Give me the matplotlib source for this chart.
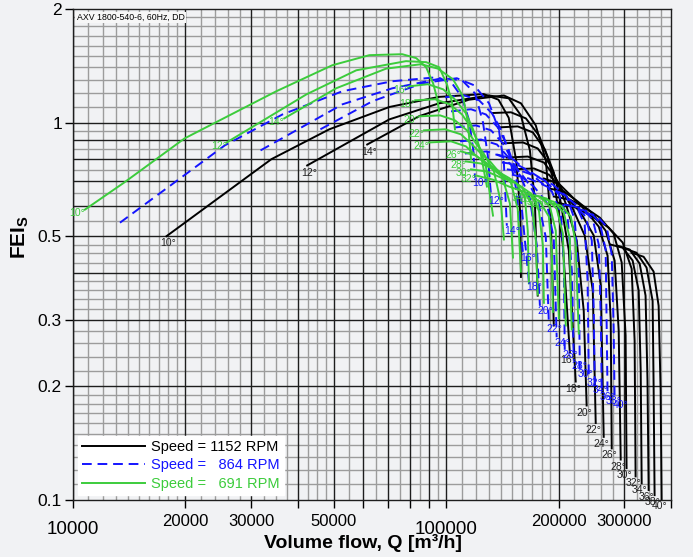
import numpy as np
import matplotlib
matplotlib.use('Agg')
import matplotlib.pyplot as plt
from matplotlib.transforms import ScaledTranslation

plt.rcParams['font.family'] = ['Liberation Sans', 'DejaVu Sans']
plt.rcParams['mathtext.fontset'] = 'custom'
plt.rcParams['mathtext.bf'] = 'Liberation Sans:bold'
plt.rcParams['mathtext.rm'] = 'Liberation Sans'

# blade angles, one curve per angle and speed
angles = [10, 12, 14, 16, 18, 20, 22, 24, 26, 28, 30, 32, 34, 36, 38, 40]

# volume flow in 1000 m3/h, FEI
q_1152 = [
    [17.8, 34.0, 48.6, 70.4, 95.7, 126, 138, 147, 154, 158, 158.5],
    [42.4, 70.4, 95.7, 130, 147, 158.5, 167.5, 172.7, 175.8],
    [61.4, 84.6, 115, 142.7, 158.5, 173.7, 184.8, 190.6, 194.1],
    [132.6, 149, 163.4, 177.1, 188.3, 196.5, 205.3, 214.3],
    [137.5, 155.4, 170.6, 183.7, 194.1, 201.5, 213, 222.2],
    [141, 160.5, 175.8, 189.5, 200.3, 209, 223.6, 233.5, 237.7],
    [145.3, 165.3, 182.6, 195.3, 206.5, 218.3, 234.9, 246.9, 251.4],
    [149.9, 171.7, 188.3, 201.5, 213, 229.3, 248.4, 259.4, 264.1],
    [182.6, 200.3, 215.6, 234.9, 256.2, 270.5, 275.8, 277.5],
    [188.3, 206.5, 223.6, 246.9, 267.3, 282.5, 289.7, 293.3],
    [194.1, 214.3, 233.5, 257.8, 280.8, 295.1, 302.3, 304.1],
    [200.3, 222.2, 245.4, 272.4, 296.9, 313.8, 319.6, 321.5],
    [275.8, 296.9, 315.7, 327.7, 331.8, 333.8],
    [287.6, 310, 329.7, 341.9, 346, 348.5],
    [300.5, 323.4, 344, 357.1, 359.3, 361.5],
    [313.8, 337.9, 359.3, 370.6, 375.2, 377.5],
]
fei_1152 = [
    [0.50, 0.80, 0.96, 1.10, 1.17, 1.19, 1.15, 1.03, 0.79, 0.57, 0.39],
    [0.77, 1.02, 1.125, 1.18, 1.16, 1.045, 0.844, 0.621, 0.348],
    [0.875, 1.04, 1.15, 1.18, 1.125, 0.983, 0.794, 0.55, 0.29],
    [1.06, 1.065, 1.026, 0.925, 0.794, 0.653, 0.472, 0.246],
    [0.971, 0.977, 0.942, 0.849, 0.738, 0.633, 0.458, 0.206],
    [0.881, 0.886, 0.854, 0.775, 0.681, 0.61, 0.487, 0.317, 0.178],
    [0.808, 0.813, 0.784, 0.72, 0.649, 0.591, 0.502, 0.359, 0.16],
    [0.752, 0.756, 0.728, 0.677, 0.625, 0.577, 0.502, 0.37, 0.147],
    [0.711, 0.689, 0.641, 0.588, 0.53, 0.444, 0.299, 0.137],
    [0.669, 0.657, 0.621, 0.574, 0.517, 0.431, 0.281, 0.128],
    [0.637, 0.625, 0.599, 0.56, 0.508, 0.426, 0.273, 0.1215],
    [0.613, 0.596, 0.564, 0.527, 0.481, 0.41, 0.264, 0.1155],
    [0.475, 0.466, 0.431, 0.359, 0.22, 0.1107],
    [0.472, 0.461, 0.423, 0.348, 0.207, 0.1063],
    [0.464, 0.452, 0.413, 0.337, 0.201, 0.103],
    [0.452, 0.441, 0.403, 0.327, 0.195, 0.1006],
]

q_864 = [
    [13.36, 25.5, 36.4, 52.7, 71.7, 94.5, 103.6, 110.2, 115.1, 118, 119.4],
    [31.8, 52.7, 71.7, 97.5, 110.2, 119.4, 125.4, 129.2, 131.8],
    [46, 63.4, 86.2, 106.7, 118.7, 130.2, 138.4, 142.7, 145.3],
    [99.3, 111.6, 122.4, 132.6, 141, 147.2, 153.6, 160.5],
    [103, 116.5, 127.7, 137.5, 145.3, 150.9, 158.5, 166.5],
    [105.5, 120.1, 131.8, 141.8, 149.9, 156.6, 167.5, 174.8, 178.2],
    [108.9, 123.9, 136.7, 146.1, 154.5, 163.4, 175.8, 184.8, 188.3],
    [112.2, 128.5, 141, 150.9, 158.5, 171.7, 185.9, 194.1, 197.6],
    [136.7, 149.9, 161.5, 175.8, 191.8, 202.8, 206.5, 207.7],
    [141, 154.5, 167.5, 184.8, 200.3, 211.5, 217, 219.6],
    [145.3, 160.5, 174.8, 193, 210.2, 220.9, 226.5, 227.9],
    [149.9, 166.5, 183.7, 204, 222.2, 234.9, 239.1, 240.9],
    [206.5, 222.2, 236.3, 245.4, 248.4, 249.9],
    [215.6, 232.1, 246.9, 256.2, 259.4, 261],
    [224.9, 242.4, 257.8, 267.3, 268.9, 270.5],
    [234.9, 252.8, 268.9, 277.5, 280.8, 282.5],
]
fei_864 = [
    [0.543, 0.87, 1.051, 1.211, 1.287, 1.319, 1.271, 1.167, 1.014, 0.854, 0.715],
    [0.844, 1.118, 1.233, 1.311, 1.295, 1.195, 1.002, 0.818, 0.641],
    [0.96, 1.139, 1.271, 1.311, 1.256, 1.125, 0.954, 0.779, 0.533],
    [1.167, 1.181, 1.146, 1.058, 0.948, 0.828, 0.673, 0.452],
    [1.071, 1.085, 1.051, 0.971, 0.875, 0.784, 0.625, 0.379],
    [0.971, 0.983, 0.954, 0.881, 0.799, 0.738, 0.629, 0.472, 0.327],
    [0.892, 0.902, 0.875, 0.813, 0.756, 0.706, 0.629, 0.496, 0.294],
    [0.828, 0.839, 0.813, 0.765, 0.72, 0.677, 0.613, 0.493, 0.27],
    [0.823, 0.804, 0.756, 0.706, 0.657, 0.574, 0.423, 0.25],
    [0.784, 0.775, 0.742, 0.698, 0.645, 0.557, 0.405, 0.234],
    [0.752, 0.742, 0.72, 0.685, 0.637, 0.553, 0.393, 0.223],
    [0.728, 0.711, 0.681, 0.649, 0.607, 0.536, 0.381, 0.211],
    [0.607, 0.599, 0.564, 0.487, 0.317, 0.202],
    [0.603, 0.591, 0.553, 0.475, 0.303, 0.194],
    [0.591, 0.58, 0.543, 0.461, 0.295, 0.189],
    [0.577, 0.567, 0.53, 0.447, 0.286, 0.185],
]

q_691 = [
    [10.76, 13.69, 19.9, 35.06, 49.5, 62.2, 76.2, 83.1, 88.3, 92.2, 94.5, 95.7],
    [25.8, 42.2, 57.4, 78, 88.3, 95.7, 100.4, 103.6, 105.5],
    [36.8, 50.7, 69, 85.6, 95, 104.2, 110.9, 114.2, 116.5],
    [79.6, 89.3, 98.1, 106.1, 112.9, 118, 123.2, 128.5],
    [82.6, 93.3, 102.3, 110.2, 116.5, 120.8, 127.7, 133.4],
    [84.6, 96.3, 105.5, 113.6, 120.1, 125.4, 134.2, 140.1, 142.7],
    [87.2, 99.3, 109.5, 117.2, 123.9, 131, 141, 148.1, 150.9],
    [90, 103, 112.9, 120.8, 127.7, 137.5, 149, 155.4, 158.5],
    [109.5, 120.1, 129.4, 141, 153.6, 162.4, 165.3, 166.5],
    [112.9, 123.9, 134.2, 148.1, 160.5, 169.6, 173.7, 175.8],
    [116.5, 128.5, 140.1, 154.5, 168.6, 177.1, 181.5, 182.6],
    [120.1, 133.4, 147.2, 163.4, 178.2, 188.3, 191.8, 193],
    [165.3, 178.2, 189.5, 196.5, 198.8, 200.3],
    [172.7, 185.9, 197.6, 205.3, 207.7, 209],
    [180.4, 194.1, 206.5, 214.3, 215.6, 216.9],
    [188.3, 202.8, 215.6, 222.2, 224.9, 226.5],
]
fei_691 = [
    [0.588, 0.693, 0.908, 1.211, 1.419, 1.509, 1.518, 1.482, 1.402, 1.271, 1.16, 1.071],
    [0.886, 1.188, 1.376, 1.455, 1.446, 1.402, 1.264, 1.132, 0.96],
    [1.026, 1.233, 1.39, 1.428, 1.39, 1.303, 1.174, 1.002, 0.799],
    [1.248, 1.264, 1.225, 1.146, 1.058, 0.96, 0.844, 0.677],
    [1.146, 1.153, 1.118, 1.051, 0.971, 0.902, 0.765, 0.567],
    [1.039, 1.045, 1.014, 0.954, 0.881, 0.834, 0.742, 0.613, 0.49],
    [0.954, 0.96, 0.931, 0.875, 0.828, 0.789, 0.724, 0.61, 0.439],
    [0.886, 0.892, 0.865, 0.813, 0.784, 0.747, 0.693, 0.591, 0.403],
    [0.839, 0.818, 0.77, 0.72, 0.693, 0.633, 0.517, 0.375],
    [0.789, 0.779, 0.752, 0.711, 0.669, 0.603, 0.49, 0.35],
    [0.752, 0.742, 0.715, 0.689, 0.649, 0.584, 0.472, 0.333],
    [0.724, 0.706, 0.677, 0.653, 0.617, 0.564, 0.449, 0.315],
    [0.645, 0.637, 0.599, 0.517, 0.37, 0.303],
    [0.641, 0.629, 0.591, 0.508, 0.352, 0.29],
    [0.629, 0.617, 0.577, 0.493, 0.341, 0.283],
    [0.613, 0.603, 0.564, 0.478, 0.331, 0.276],
]

speed_labels = ['Speed = 1152 RPM', 'Speed =   864 RPM', 'Speed =   691 RPM']

x_ticks = [10000, 20000, 30000, 50000, 100000, 200000, 300000]
y_ticks = [0.1, 0.2, 0.3, 0.5, 1, 2]

BG = '#f1f2f4'
BLUE = '#1414ff'
GREEN = '#3ccc3c'

fig = plt.figure(figsize=(6.93, 5.57), dpi=100, facecolor=BG)
ax = fig.add_axes([73 / 693, 1 - 500 / 557, 598 / 693, 491 / 557])
ax.set_facecolor(BG)
ax.set_xscale('log')
ax.set_yscale('log')
ax.set_xlim(10000, 400000)
ax.set_ylim(0.1, 2)

# grid: dark lines and light lines
x_dark = list(np.arange(1, 11) * 1e4) + [2e5, 3e5]
x_light = (list(np.arange(11, 20) * 1e3) + list(np.arange(22, 30, 2) * 1e3)
           + list(np.arange(32.5, 40, 2.5) * 1e3) + list(np.arange(42.5, 50, 2.5) * 1e3)
           + [55e3, 65e3, 75e3, 85e3, 95e3] + list(np.arange(11, 20) * 1e4)
           + list(np.arange(22, 30, 2) * 1e4) + list(np.arange(32.5, 40, 2.5) * 1e4))
y_dark = [0.2, 0.3, 0.4, 0.5, 0.6, 0.7, 0.8, 0.9, 1.0]
y_light = (list(np.arange(0.11, 0.195, 0.01)) + [0.22, 0.24, 0.26, 0.28]
           + [0.32, 0.34, 0.36, 0.38] + [0.425, 0.45, 0.475]
           + [0.55, 0.65, 0.75, 0.85, 0.95] + list(np.arange(1.1, 1.95, 0.1)))
for v in x_light:
    ax.axvline(v, color='#9c9c9c', lw=1.0, zorder=0.5)
for v in y_light:
    ax.axhline(v, color='#9c9c9c', lw=1.0, zorder=0.5)
for v in x_dark:
    ax.axvline(v, color='#1e1e1e', lw=1.0, zorder=0.6)
for v in y_dark:
    ax.axhline(v, color='#1e1e1e', lw=1.0, zorder=0.6)

for s in ax.spines.values():
    s.set_color('#1e1e1e')
    s.set_linewidth(1.0)

# curves
for a, q, f in zip(angles, q_1152, fei_1152):
    q = np.array(q) * 1000
    ax.plot(q, f, color='black', lw=1.4, zorder=2)
    if a <= 14:
        ax.annotate(f'{a}°', (q[0], f[0]), xytext=(1.5, -1.5), textcoords='offset points',
                    ha='center', va='top', fontsize=7.5, color='#222222', zorder=5)
    else:
        ax.annotate(f'{a}°', (q[-1], f[-1]), xytext=(-1.5, -1.5), textcoords='offset points',
                    ha='center', va='top', fontsize=7.5, color='#222222', zorder=5)

for a, q, f in zip(angles, q_864, fei_864):
    q = np.array(q) * 1000
    ax.plot(q, f, color=BLUE, lw=1.4, ls=(0, (5, 3)), zorder=3)
    ax.annotate(f'{a}°', (q[-1], f[-1]), xytext=(4, -4), textcoords='offset points',
                ha='center', va='center', fontsize=7.5, color=BLUE, zorder=5)

for a, q, f in zip(angles, q_691, fei_691):
    q = np.array(q) * 1000
    ax.plot(q, f, color=GREEN, lw=1.4, zorder=4)
    ax.annotate(f'{a}°', (q[0], f[0]), xytext=(0, -2.5), textcoords='offset points',
                ha='right', va='center', fontsize=7.5, color=GREEN, zorder=3.5)

ax.text(0.006, 0.992, 'AXV 1800-540-6, 60Hz, DD', transform=ax.transAxes, fontsize=6.3,
        ha='left', va='top', zorder=6,
        bbox=dict(facecolor='#f7f7f7', edgecolor='none', pad=1.0))

# ticks
ax.xaxis.set_major_locator(plt.FixedLocator(x_dark + [4e5]))
ax.xaxis.set_major_formatter(plt.FixedFormatter([]))
ax.xaxis.set_minor_locator(plt.NullLocator())
ax.set_xticks(x_dark + [4e5])
ax.set_xticklabels(['10000', '20000', '30000', '', '50000', '', '', '', '', '100000',
                    '200000', '300000', ''])
ax.set_yticks(y_ticks)
ax.set_yticklabels(['0.1', '0.2', '0.3', '0.5', '1', '2'])
ax.yaxis.set_minor_locator(plt.NullLocator())
ax.tick_params(axis='x', length=6, width=1, pad=4, labelsize=12)
ax.tick_params(axis='y', length=6, width=1, pad=2, labelsize=12.5)
for lbl in ax.get_xticklabels():
    if lbl.get_text() in ('10000', '100000'):
        lbl.set_fontsize(13.5)
        lbl.set_transform(lbl.get_transform() + ScaledTranslation(0, -5 / 72, fig.dpi_scale_trans))

ax.set_xlabel('Volume flow, Q [m³/h]', fontsize=14, fontweight='bold')
ax.xaxis.set_label_coords(0.485, -0.07)
ax.set_ylabel(r'FEI$_\mathbf{S}$', fontsize=15, fontweight='bold')
ax.yaxis.set_label_coords(-0.07, 0.535)

handles = [plt.Line2D([], [], color='black', lw=1.4),
           plt.Line2D([], [], color=BLUE, lw=1.4, ls=(0, (5, 3))),
           plt.Line2D([], [], color=GREEN, lw=1.4)]
leg = ax.legend(handles, speed_labels, loc='lower left', bbox_to_anchor=(0.008, 0.01),
                borderaxespad=0, fontsize=10.5, handlelength=4.3, handletextpad=0.45,
                labelspacing=0.3, borderpad=0.3, fancybox=False, framealpha=1,
                facecolor='white', edgecolor='white')
leg.set_zorder(10)
for txt, col in zip(leg.get_texts(), ['black', BLUE, GREEN]):
    txt.set_color(col)

fig.savefig('out.png', dpi=100, facecolor=BG)
